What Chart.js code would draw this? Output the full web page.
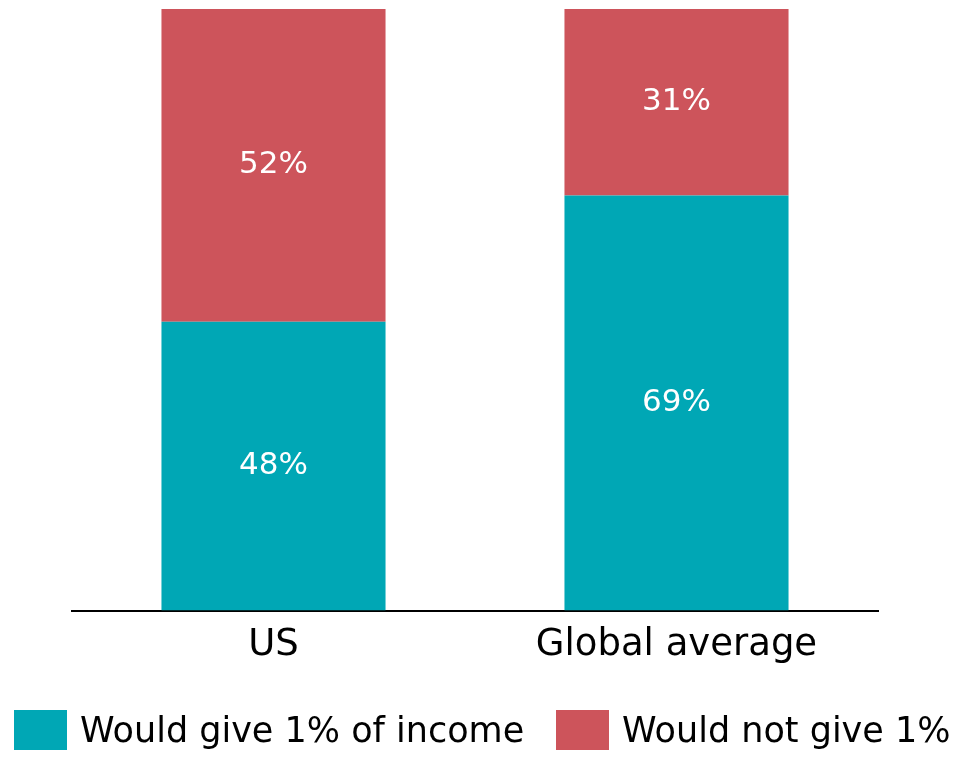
<!DOCTYPE html>
<html>
<head>
<meta charset="utf-8">
<script src="https://cdn.jsdelivr.net/npm/chart.js@4.4.0/dist/chart.umd.min.js"></script>
<style>
  html, body { margin: 0; padding: 0; background: #fff; }
  #wrap { position: relative; width: 975px; height: 757px; }
  #chartBox { position: absolute; left: 0; top: 0; width: 975px; height: 757px; }
  #legend { position: absolute; top: 710px; left: 0; width: 975px; height: 40px;
            font-family: 'Century Gothic', 'DejaVu Sans', sans-serif; font-size: 35px; color: #000; }
  .item { position: absolute; top: 0; height: 40px; display: flex; align-items: center; white-space: nowrap; }
  .swatch { width: 53px; height: 40px; margin-right: 13px; }
</style>
</head>
<body>
<div id="wrap">
  <div id="chartBox"><canvas id="chart"></canvas></div>
  <div id="legend"></div>
</div>
<script>
const categories = ["US", "Global average"];
const wouldGive = [48, 69];
const wouldNotGive = [52, 31];
const seriesNames = ["Would give 1% of income", "Would not give 1%"];

const TEAL = "#00A7B5";
const RED = "#CD545B";
const FONT = "'Century Gothic', 'DejaVu Sans', sans-serif";

// white % labels in the middle of each segment
const segmentLabels = {
    id: "segmentLabels",
    afterDatasetsDraw(chart) {
        const ctx = chart.ctx;
        ctx.save();
        ctx.fillStyle = "#fff";
        ctx.font = "31px " + FONT;
        ctx.textAlign = "center";
        ctx.textBaseline = "middle";
        chart.data.datasets.forEach((ds, i) => {
            chart.getDatasetMeta(i).data.forEach((bar, j) => {
                const mid = (bar.y + bar.base) / 2;
                ctx.fillText(ds.data[j] + "%", bar.x, mid);
            });
        });
        ctx.restore();
    }
};

const chart = new Chart(document.getElementById("chart"), {
    type: "bar",
    data: {
        labels: categories,
        datasets: [
            { label: seriesNames[0], data: wouldGive, backgroundColor: TEAL },
            { label: seriesNames[1], data: wouldNotGive, backgroundColor: RED }
        ]
    },
    options: {
        responsive: true,
        maintainAspectRatio: false,
        animation: false,
        layout: { padding: { top: 9, left: 72, right: 97, bottom: 84 } },
        categoryPercentage: 1,
        barPercentage: 0.556,
        plugins: {
            legend: { display: false },
            tooltip: { enabled: false }
        },
        scales: {
            x: {
                stacked: true,
                grid: { display: false },
                border: { color: "#000", width: 2 },
                ticks: { color: "#000", font: { family: FONT, size: 37 }, padding: 5 }
            },
            y: {
                stacked: true,
                display: false,
                min: 0,
                max: 100
            }
        }
    },
    plugins: [segmentLabels]
});

// legend as html so both items fit on one row
const legendLeft = [14, 556];
const legend = document.getElementById("legend");
chart.data.datasets.forEach((ds, i) => {
    const item = document.createElement("div");
    item.className = "item";
    item.style.left = legendLeft[i] + "px";
    const sw = document.createElement("div");
    sw.className = "swatch";
    sw.style.background = ds.backgroundColor;
    const txt = document.createElement("span");
    txt.textContent = ds.label;
    item.appendChild(sw);
    item.appendChild(txt);
    legend.appendChild(item);
});
</script>
</body>
</html>
